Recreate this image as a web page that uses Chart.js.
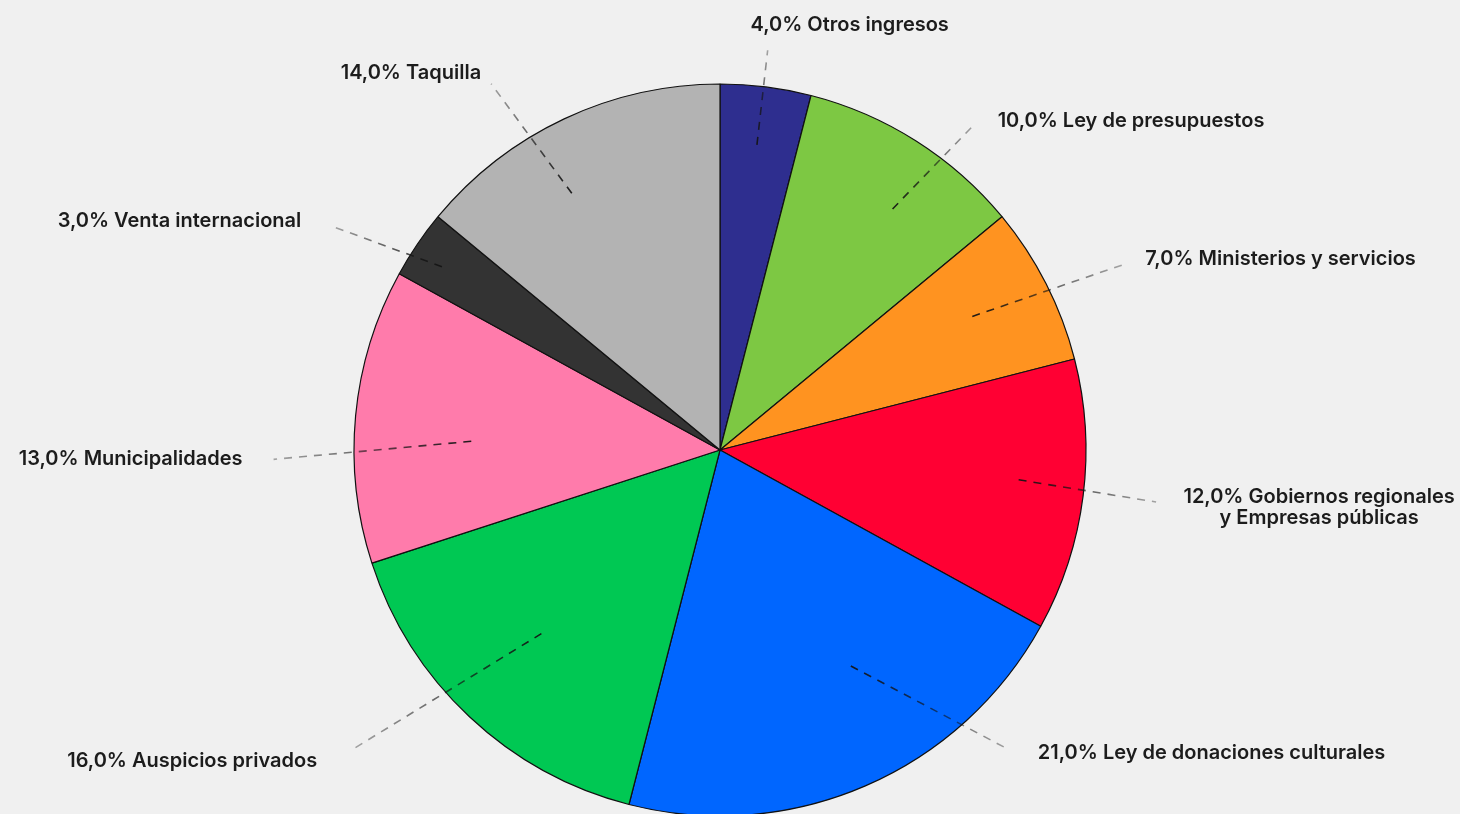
<!DOCTYPE html>
<html>
<head>
<meta charset="utf-8">
<script src="https://cdn.jsdelivr.net/npm/chart.js@4.4.1/dist/chart.umd.min.js"></script>
<style>
  html, body { margin: 0; padding: 0; background: #f0f0f0; }
  #wrap { width: 1460px; height: 814px; position: relative; }
</style>
</head>
<body>
<div id="wrap"><canvas id="c" width="1460" height="814"></canvas></div>
<script>
// ---- Data ----
const categories = [
  "Otros ingresos",
  "Ley de presupuestos",
  "Ministerios y servicios",
  ["Gobiernos regionales", "y Empresas públicas"],
  "Ley de donaciones culturales",
  "Auspicios privados",
  "Municipalidades",
  "Venta internacional",
  "Taquilla"
];
const shares = [4, 10, 7, 12, 21, 16, 13, 3, 14];
const sliceColors = [
  "#2e2e8f", "#7dc843", "#ff9320", "#ff0033", "#0066ff",
  "#00c853", "#ff7bab", "#333333", "#b3b3b3"
];

// Leader geometry (angle offset from slice mid in degrees, radius as fraction of pie radius)
// and label placement relative to the outer end of the leader.
const leaderSpec = [
  { a1: -0.3, r1: 0.84, a2: -0.4, r2: 1.10, dx: 82,  dy: -25, align: "center" },
  { a1: 3.2,  r1: 0.81, a2: 5.6,  r2: 1.13, dx: 23,  dy: -3,  align: "left" },
  { a1: -0.9, r1: 0.78, a2: 2.3,  r2: 1.21, dx: 23,  dy: -6,  align: "left" },
  { a1: -1.5, r1: 0.82, a2: -0.4, r2: 1.20, dx: 163, dy: -5,  align: "center" },
  { a1: -7.8, r1: 0.69, a2: -20.6,r2: 1.14, dx: 28,  dy: 3,   align: "left" },
  { a1: 1.0,  r1: 0.70, a2: 7.6,  r2: 1.29, dx: -37, dy: 13,  align: "right" },
  { a1: -3.4, r1: 0.68, a2: -6.6, r2: 1.22, dx: -31, dy: 0,   align: "right" },
  { a1: -0.8, r1: 0.91, a2: -4.2, r2: 1.22, dx: -32, dy: -6,  align: "right" },
  { a1: -4.8, r1: 0.81, a2: -6.8, r2: 1.18, dx: -10, dy: -11, align: "right" }
];

function fmtPct(v) {
  return v.toFixed(1).replace(".", ",") + "%";
}

const labelPlugin = {
  id: "leaderLabels",
  afterDatasetsDraw(chart) {
    const ctx = chart.ctx;
    const meta = chart.getDatasetMeta(0);
    ctx.save();
    ctx.font = '600 20px "Inter", "Noto Sans", sans-serif';
    ctx.textBaseline = "middle";
    meta.data.forEach((arc, i) => {
      const { x, y, startAngle, endAngle, outerRadius } = arc.getProps(
        ["x", "y", "startAngle", "endAngle", "outerRadius"], true);
      const mid = (startAngle + endAngle) / 2;
      const s = leaderSpec[i];
      const a1 = mid + s.a1 * Math.PI / 180;
      const a2 = mid + s.a2 * Math.PI / 180;
      const x1 = x + Math.cos(a1) * outerRadius * s.r1;
      const y1 = y + Math.sin(a1) * outerRadius * s.r1;
      const x2 = x + Math.cos(a2) * outerRadius * s.r2;
      const y2 = y + Math.sin(a2) * outerRadius * s.r2;
      const g = ctx.createLinearGradient(x1, y1, x2, y2);
      g.addColorStop(0, "rgba(20,20,20,0.95)");
      g.addColorStop(1, "rgba(20,20,20,0.35)");
      ctx.strokeStyle = g;
      ctx.lineWidth = 1.6;
      ctx.setLineDash([8, 7]);
      ctx.beginPath();
      ctx.moveTo(x1, y1);
      ctx.lineTo(x2, y2);
      ctx.stroke();
      ctx.setLineDash([]);

      const cat = categories[i];
      const lines = Array.isArray(cat) ? cat.slice() : [cat];
      lines[0] = fmtPct(shares[i]) + " " + lines[0];
      ctx.fillStyle = "#1c1c1c";
      ctx.textAlign = s.align;
      lines.forEach((t, k) => {
        ctx.fillText(t, x2 + s.dx, y2 + s.dy + k * 21);
      });
    });
    ctx.restore();
  }
};

new Chart(document.getElementById("c"), {
  type: "pie",
  data: {
    labels: categories,
    datasets: [{
      data: shares,
      backgroundColor: sliceColors,
      borderColor: "#111111",
      borderWidth: 1.2
    }]
  },
  options: {
    responsive: false,
    animation: false,
    radius: 366,
    layout: { padding: { left: 0, right: 20, top: 86, bottom: 0 } },
    plugins: {
      legend: { display: false },
      tooltip: { enabled: false }
    }
  },
  plugins: [labelPlugin]
});
</script>
</body>
</html>
